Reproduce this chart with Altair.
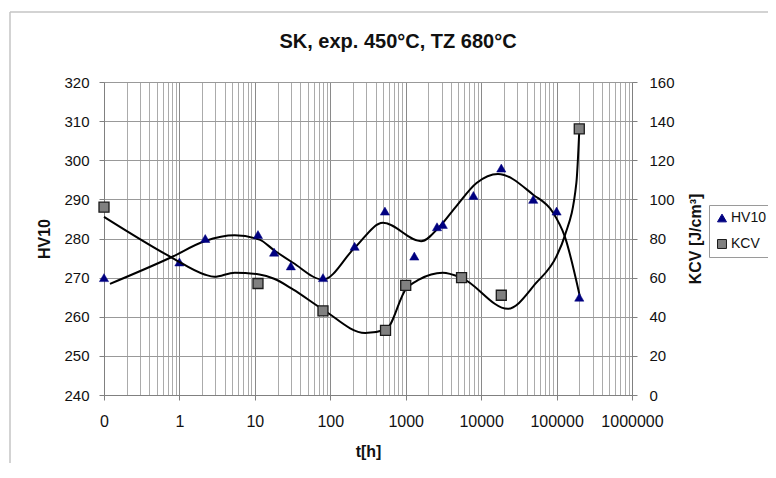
import altair as alt
import pandas as pd

FONT = "Liberation Sans"

# Measured points
hv_t = [0.1, 1, 2.2, 11, 18, 30, 80, 210, 530, 1300, 2600, 3100, 7900, 18500, 49000, 100000, 200000]
hv_v = [270, 274, 280, 281, 276.5, 273, 270, 278, 287, 275.5, 283, 283.6, 291, 298, 290, 287, 265]

kcv_t = [0.1, 11, 80, 540, 1000, 5500, 18500, 200000]
kcv_v = [96, 57, 43, 33, 56, 60, 51, 136]

# Smoothed curves
hv_curve_t = [0.12, 0.78, 2.15, 5.4, 11.5, 18, 32, 80, 210, 500, 1600, 2800, 4700, 8700, 16700, 49000, 90000, 128000, 203000]
hv_curve_v = [268.4, 275.2, 279.3, 280.8, 279.7, 277.0, 273.8, 269.5, 277.6, 284.0, 279.3, 283.0, 288.3, 294.2, 296.5, 291.2, 286.6, 280.6, 265.3]

kcv_curve_t = [0.1, 0.78, 2.15, 2.9, 5.4, 11.5, 18, 32, 80, 290, 550, 1000, 1520, 3100, 5500, 22600, 54000, 100000, 128000, 183000, 200000]
kcv_curve_v = [91.1, 70.4, 61.6, 60.4, 62.5, 61.6, 59.4, 54, 43.7, 31.7, 33.5, 54, 59.1, 62.5, 59.9, 44.1, 57.4, 71, 81.2, 108.4, 135]

# Axis ticks
major_ticks = [0.1, 1, 10, 100, 1000, 10000, 100000, 1000000]
grid_ticks = [m * k for m in major_ticks[:-1] for k in range(1, 10)] + [1000000]
hv_ticks = [240, 250, 260, 270, 280, 290, 300, 310, 320]
kcv_ticks = [0, 20, 40, 60, 80, 100, 120, 140, 160]

hv_pts_df = pd.DataFrame({"t": hv_t, "hv": hv_v, "series": "HV10"})
kcv_pts_df = pd.DataFrame({"t": kcv_t, "kcv": kcv_v, "series": "KCV"})
hv_curve_df = pd.DataFrame({"t": hv_curve_t, "hv": hv_curve_v})
kcv_curve_df = pd.DataFrame({"t": kcv_curve_t, "kcv": kcv_curve_v})

W, H = 528, 313

is_major = "abs(log(datum.value)/LN10 - round(log(datum.value)/LN10)) < 0.001"

x_axis = alt.Axis(
    values=grid_ticks,
    labelExpr=f"datum.value < 0.15 ? '0' : ({is_major} ? format(datum.value, 'd') : '')",
    labelOverlap=False,
    labelFlush=False,
    labelFont=FONT,
    labelFontSize=16,
    labelColor="#111",
    labelPadding=13,
    grid=True,
    gridColor={"condition": {"test": is_major, "value": "#8a8a8a"}, "value": "#ababab"},
    gridWidth=1,
    tickColor={"condition": {"test": is_major, "value": "#808080"}, "value": "transparent"},
    tickSize=5,
    domainColor="#808080",
    title="t[h]",
    titleFont=FONT,
    titleFontSize=16,
    titleFontWeight="bold",
    titleColor="#111",
    titleX=W / 2,
    titleY=61,
    titleBaseline="alphabetic",
    titleAlign="center",
)

x_enc = alt.X("t:Q", scale=alt.Scale(type="log", domain=[0.1, 1000000], nice=False), axis=x_axis)

hv_axis = alt.Axis(
    values=hv_ticks,
    orient="left",
    grid=True,
    gridColor="#999999",
    domainColor="#808080",
    tickColor="#808080",
    tickSize=5,
    labelPadding=10,
    labelFont=FONT,
    labelFontSize=15,
    labelColor="#111",
    title="HV10",
    titleFont=FONT,
    titleFontSize=16,
    titleFontWeight="bold",
    titleColor="#111",
    titleAngle=270,
    titleX=-60,
    titleY=H / 2,
    titleBaseline="middle",
    titleAlign="center",
)

kcv_axis = alt.Axis(
    values=kcv_ticks,
    orient="right",
    grid=False,
    domainColor="#808080",
    tickColor="#808080",
    tickSize=5,
    labelPadding=12,
    labelFont=FONT,
    labelFontSize=15,
    labelColor="#111",
    title="KCV [J/cm³]",
    titleFont=FONT,
    titleFontSize=16,
    titleFontWeight="bold",
    titleColor="#111",
    titleAngle=270,
    titleX=63,
    titleY=H / 2,
    titleBaseline="middle",
    titleAlign="center",
)

hv_y = alt.Y("hv:Q", scale=alt.Scale(domain=[240, 320], nice=False, zero=False), axis=hv_axis)
kcv_y = alt.Y("kcv:Q", scale=alt.Scale(domain=[0, 160], nice=False, zero=False), axis=kcv_axis)

legend = alt.Legend(
    title=None,
    orient="none",
    legendX=605,
    legendY=123,
    fillColor="white",
    strokeColor="#9a9a9a",
    padding=6,
    rowPadding=12,
    symbolSize=80,
    symbolStrokeWidth=1,
    labelFont=FONT,
    labelFontSize=14,
    labelColor="#111",
    labelOffset=2,
    labelLimit=200,
)

fill_enc = alt.Fill("series:N", scale=alt.Scale(domain=["HV10", "KCV"], range=["#000080", "#808080"]), legend=legend)
shape_enc = alt.Shape("series:N", scale=alt.Scale(domain=["HV10", "KCV"], range=["triangle-up", "square"]), legend=legend)
stroke_enc = alt.Stroke("series:N", scale=alt.Scale(domain=["HV10", "KCV"], range=["#000080", "#1a1a1a"]), legend=legend)

hv_line = alt.Chart(hv_curve_df).mark_line(color="black", strokeWidth=2, interpolate="monotone").encode(x=x_enc, y=hv_y)
hv_pts = alt.Chart(hv_pts_df).mark_point(filled=True, size=85, opacity=1, strokeWidth=0.5).encode(
    x=x_enc, y=hv_y, fill=fill_enc, shape=shape_enc, stroke=stroke_enc
)

kcv_line = alt.Chart(kcv_curve_df).mark_line(color="black", strokeWidth=2, interpolate="monotone").encode(x=x_enc, y=kcv_y)
kcv_pts = alt.Chart(kcv_pts_df).mark_point(filled=True, size=100, opacity=1, strokeWidth=1.3).encode(
    x=x_enc, y=kcv_y, fill=fill_enc, shape=shape_enc, stroke=stroke_enc
)

border_df = pd.DataFrame({"a": [0]})
border_v = alt.Chart(border_df).mark_rule(color="#c4c4c4", strokeWidth=1.5).encode(
    x=alt.value(-94), y=alt.value(-70), y2=alt.value(420)
)
border_h = alt.Chart(border_df).mark_rule(color="#c4c4c4", strokeWidth=1.5).encode(
    x=alt.value(-94), x2=alt.value(700), y=alt.value(-70)
)

hv_layer = alt.layer(hv_line, hv_pts)
kcv_layer = alt.layer(kcv_line, kcv_pts)

chart = (
    alt.layer(border_v, border_h, hv_layer, kcv_layer)
    .resolve_scale(y="independent")
    .properties(
        width=W,
        height=H,
        padding={"left": 96, "top": 74, "right": 136, "bottom": 68},
        autosize=alt.AutoSizeParams(type="none"),
        title=alt.TitleParams(
            "SK, exp. 450°C, TZ 680°C",
            font=FONT,
            fontSize=20,
            fontWeight="bold",
            color="#111",
            anchor="middle",
            frame="group",
            baseline="alphabetic",
            dx=30,
            dy=57,
            offset=0,
        ),
    )
    .configure_view(stroke=None)
)

chart.save("out.html", embed_options={"renderer": "svg", "actions": False})
